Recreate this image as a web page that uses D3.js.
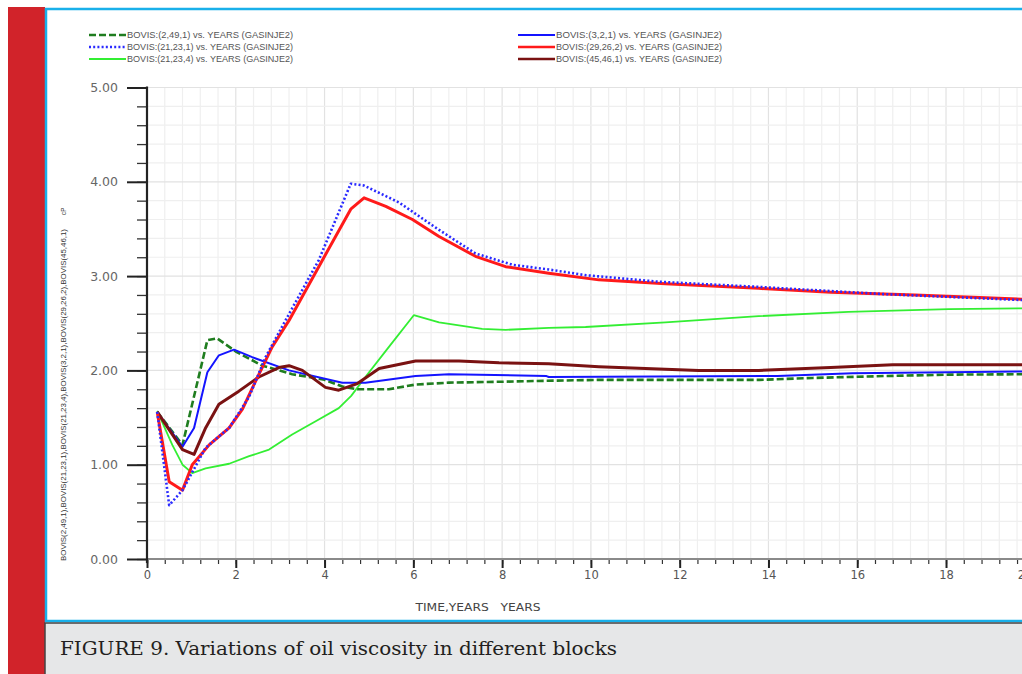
<!DOCTYPE html>
<html><head><meta charset="utf-8">
<script src="https://cdn.jsdelivr.net/npm/d3@7"></script>
<style>html,body{margin:0;padding:0;background:#fff;overflow:hidden}</style>
</head><body>
<svg id="c" width="1022" height="674"></svg>
<script>
// ---- data ----
const seriesNames = ["BOVIS:(2,49,1) vs. YEARS (GASINJE2)","BOVIS:(21,23,1) vs. YEARS (GASINJE2)","BOVIS:(21,23,4) vs. YEARS (GASINJE2)","BOVIS:(3,2,1) vs. YEARS (GASINJE2)","BOVIS:(29,26,2) vs. YEARS (GASINJE2)","BOVIS:(45,46,1) vs. YEARS (GASINJE2)"];
const t_2_49_1 = [0.23,0.8,1.36,1.58,2.0,2.6,3.27,4.0,4.4,4.74,5.45,6.05,6.8,8.0,9.0,10.25,12,13.8,15,16.6,18.06,20];
const v_2_49_1 = [1.56,1.21,2.32,2.34,2.20,2.05,1.96,1.90,1.83,1.80,1.80,1.85,1.87,1.88,1.89,1.90,1.90,1.90,1.92,1.94,1.955,1.96];
const t_21_23_1 = [0.23,0.5,0.8,1.32,1.85,2.3,2.67,3.12,3.87,4.59,4.89,5.68,6.58,7.4,8.23,9.05,9.88,11.53,13.6,16.56,20];
const v_21_23_1 = [1.56,0.57,0.73,1.18,1.39,1.72,2.14,2.53,3.17,3.98,3.96,3.78,3.49,3.24,3.12,3.07,3.01,2.94,2.89,2.81,2.74];
const t_21_23_4 = [0.23,0.57,0.8,1.02,1.32,1.85,2.3,2.75,3.27,3.8,4.32,4.6,4.92,5.45,6.01,6.58,7.55,8.08,9.05,9.88,11.68,13.78,15.8,18.06,20];
const v_21_23_4 = [1.57,1.21,1.0,0.91,0.96,1.01,1.09,1.16,1.32,1.46,1.6,1.73,1.93,2.25,2.585,2.51,2.44,2.43,2.45,2.46,2.51,2.575,2.62,2.65,2.66];
const t_3_2_1 = [0.23,0.8,1.06,1.36,1.62,1.96,2.37,3.2,4.4,4.92,6.05,6.8,9.0,9.05,14.2,15.9,20];
const v_3_2_1 = [1.56,1.19,1.39,1.98,2.16,2.22,2.14,2.0,1.87,1.87,1.94,1.96,1.94,1.93,1.94,1.97,1.99];
const t_29_26_2 = [0.23,0.5,0.8,1.02,1.4,1.85,2.15,2.45,2.82,3.2,3.87,4.59,4.89,5.38,5.98,6.58,7.4,8.08,9.05,10.18,11.68,13.78,15.4,17.3,20];
const v_29_26_2 = [1.56,0.82,0.73,1.0,1.21,1.39,1.59,1.89,2.25,2.53,3.10,3.71,3.83,3.74,3.60,3.42,3.21,3.10,3.03,2.96,2.92,2.87,2.83,2.80,2.75];
const t_45_46_1 = [0.23,0.8,1.06,1.32,1.62,2.07,2.52,2.97,3.2,3.5,4.02,4.32,4.74,5.23,6.05,7.03,7.93,9.05,10.18,12.43,13.78,15.4,16.8,20];
const v_45_46_1 = [1.56,1.16,1.11,1.39,1.64,1.78,1.93,2.03,2.05,2.0,1.82,1.79,1.86,2.02,2.10,2.10,2.08,2.07,2.04,2.0,2.0,2.03,2.06,2.06];
const xTickLabels = ["0","2","4","6","8","10","12","14","16","18","20"];
const yTickLabels = ["0.00","1.00","2.00","3.00","4.00","5.00"];
const xTitle = "TIME,YEARS   YEARS";
const yTitle = "BOVIS(2,49,1),BOVIS(21,23,1),BOVIS(21,23,4),BOVIS(3,2,1),BOVIS(29,26,2),BOVIS(45,46,1)";
const yUnit = "cP";
const caption = "FIGURE 9. Variations of oil viscosity in different blocks";

// ---- styles ----
const styles = [
  {c:"#1f7d1f", w:2.6, dash:"7,3"},
  {c:"#2a2aff", w:2.6, dash:"2,2.2"},
  {c:"#33ee33", w:1.8, dash:null},
  {c:"#1414ff", w:2.0, dash:null},
  {c:"#ff1a1a", w:3.0, dash:null},
  {c:"#7a1212", w:3.0, dash:null}
];
const series = [
  [t_2_49_1,v_2_49_1],[t_21_23_1,v_21_23_1],[t_21_23_4,v_21_23_4],
  [t_3_2_1,v_3_2_1],[t_29_26_2,v_29_26_2],[t_45_46_1,v_45_46_1]
];

const svg = d3.select("#c");
// page frame
svg.append("rect").attr("x",8).attr("y",7).attr("width",37).attr("height",667).attr("fill","#d1232a");
svg.append("rect").attr("x",46).attr("y",9).attr("width",1000).attr("height",612).attr("fill","#fff")
  .attr("stroke","#19b0ea").attr("stroke-width",2.5);
svg.append("rect").attr("x",45).attr("y",623).attr("width",1000).attr("height",60).attr("fill","#e6e7e8")
  .attr("stroke","#444").attr("stroke-width",1.5);
svg.append("text").attr("x",60).attr("y",655).attr("font-family","DejaVu Serif, serif")
  .attr("font-size",19).attr("fill","#231f20")
  .attr("textLength",557).attr("lengthAdjust","spacingAndGlyphs").text(caption);

const x = d3.scaleLinear().domain([0,20]).range([147,1034.8]);
const y = d3.scaleLinear().domain([0,5]).range([559,87.5]);

// grid
const g = svg.append("g");
const xMinor = d3.range(0,20.01,0.4);
const yMinor = d3.range(0,5.001,0.2);
g.selectAll(".vg").data(xMinor).enter().append("line")
  .attr("x1",d=>x(d)).attr("x2",d=>x(d)).attr("y1",y(5)).attr("y2",y(0))
  .attr("stroke",(d)=>Math.abs(d/2-Math.round(d/2))<1e-6?"#e2e2e2":"#efefef").attr("stroke-width",1.2);
g.selectAll(".hg").data(yMinor).enter().append("line")
  .attr("x1",x(0)).attr("x2",x(20)).attr("y1",d=>y(d)).attr("y2",d=>y(d))
  .attr("stroke",(d)=>Math.abs(d-Math.round(d))<1e-6?"#e2e2e2":"#efefef").attr("stroke-width",1.2);

// axes
const xAxisMinor = d3.axisBottom(x).tickValues(xMinor).tickSize(5).tickFormat("");
const xa = svg.append("g").attr("transform",`translate(0,${y(0)})`).call(xAxisMinor);
xa.select(".domain").remove();
xa.selectAll("line").attr("stroke","#333").attr("stroke-width",1.2);
const xAxisMajor = d3.axisBottom(x).tickValues(xTickLabels.map(Number)).tickSize(9).tickPadding(3)
  .tickFormat((d,i)=>xTickLabels[i]);
const xb = svg.append("g").attr("transform",`translate(0,${y(0)})`).call(xAxisMajor);
xb.select(".domain").remove();
xb.selectAll("line").attr("stroke","#222").attr("stroke-width",2);
xb.selectAll("text").attr("font-family","DejaVu Sans, sans-serif").attr("font-size",11.5).attr("fill","#555");
xb.selectAll("text").filter(d=>d===20).attr("text-anchor","end").attr("dx",-3);
svg.append("line").attr("x1",x(0)).attr("x2",x(20)).attr("y1",y(0)).attr("y2",y(0))
  .attr("stroke","#8a8a8a").attr("stroke-width",2.2);

const yAxisMinor = d3.axisLeft(y).tickValues(yMinor).tickSize(10).tickFormat("");
const ya = svg.append("g").attr("transform",`translate(${x(0)},0)`).call(yAxisMinor);
ya.select(".domain").remove();
ya.selectAll("line").attr("stroke","#333").attr("stroke-width",1.3);
const yAxisMajor = d3.axisLeft(y).tickValues(yTickLabels.map(Number)).tickSize(20).tickPadding(9)
  .tickFormat((d,i)=>yTickLabels[i]);
const yb = svg.append("g").attr("transform",`translate(${x(0)},0)`).call(yAxisMajor);
yb.select(".domain").remove();
yb.selectAll("line").attr("stroke","#222").attr("stroke-width",2);
yb.selectAll("text").attr("font-family","DejaVu Sans, sans-serif").attr("font-size",12.5).attr("fill","#666");
svg.append("line").attr("x1",x(0)).attr("x2",x(0)).attr("y1",y(5)-1).attr("y2",y(0)+4)
  .attr("stroke","#222").attr("stroke-width",2.2);

// titles
svg.append("text").attr("x",478).attr("y",611).attr("text-anchor","middle")
  .attr("font-family","DejaVu Sans, sans-serif").attr("font-size",11).attr("fill","#444")
  .attr("textLength",125).attr("lengthAdjust","spacingAndGlyphs")
  .attr("xml:space","preserve").style("white-space","pre").text(xTitle);
svg.append("text").attr("transform","translate(66,561) rotate(-90)")
  .attr("font-family","Liberation Sans, sans-serif").attr("font-size",6.3).attr("fill","#333")
  .attr("textLength",332).attr("lengthAdjust","spacingAndGlyphs").text(yTitle);
svg.append("text").attr("transform","translate(66,215) rotate(-90)")
  .attr("font-family","Liberation Sans, sans-serif").attr("font-size",6.3).attr("fill","#333").text(yUnit);

// lines
const line = d3.line().x(d=>x(d[0])).y(d=>y(d[1]));
const order = [2,0,3,5,4,1];
order.forEach(i=>{
  const [ts,vs] = series[i];
  const pts = ts.map((t,k)=>[t,vs[k]]);
  const p = svg.append("path").datum(pts).attr("d",line).attr("fill","none")
    .attr("stroke",styles[i].c).attr("stroke-width",styles[i].w).attr("stroke-linejoin","round");
  if(styles[i].dash) p.attr("stroke-dasharray",styles[i].dash);
});

// legend
const legPos = [[89,35],[89,47],[89,59],[518,35],[518,47],[518,59]];
seriesNames.forEach((n,i)=>{
  const [lx,ly] = legPos[i];
  const l = svg.append("line").attr("x1",lx).attr("x2",lx+37).attr("y1",ly).attr("y2",ly)
    .attr("stroke",styles[i].c).attr("stroke-width",Math.min(styles[i].w,2.4));
  if(styles[i].dash) l.attr("stroke-dasharray",styles[i].dash);
  svg.append("text").attr("x",lx+38).attr("y",ly+3).attr("font-family","Liberation Sans, Arial, sans-serif")
    .attr("font-size",8.6).attr("fill","#555")
    .attr("textLength",166).attr("lengthAdjust","spacingAndGlyphs").text(n);
});
</script>
</body></html>
